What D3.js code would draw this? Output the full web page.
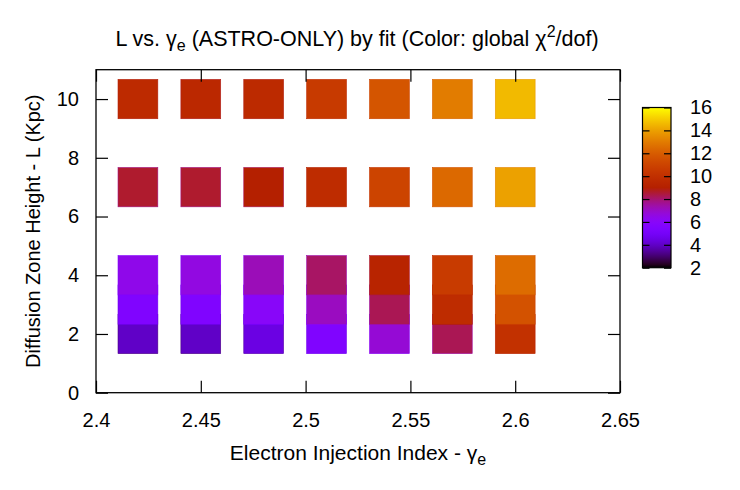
<!DOCTYPE html>
<html>
<head>
<meta charset="utf-8">
<script src="https://cdn.jsdelivr.net/npm/d3@7"></script>
<style>
  body { margin: 0; background: #fff; }
  svg { display: block; }
  text { font-family: "Liberation Sans", Arial, Helvetica, sans-serif; fill: #000; }
</style>
</head>
<body>
<svg id="chart" width="740" height="490"></svg>
<script>
// ---- data ----
const gammas = [2.42, 2.45, 2.48, 2.51, 2.54, 2.57, 2.60];
const Lvalues = [2, 3, 4, 7, 10];
const chi2_L2  = [4.0, 4.0, 4.45, 5.5, 6.8, 8.25, 10.1];
const chi2_L3  = [5.5, 5.5, 6.0, 7.1, 8.25, 9.8, 11.6];
const chi2_L4  = [6.4, 6.6, 7.2, 8.1, 9.3, 10.6, 12.5];
const chi2_L7  = [8.6, 8.6, 9.0, 9.8, 11.0, 12.4, 14.0];
const chi2_L10 = [9.7, 9.55, 9.65, 10.55, 11.7, 13.0, 14.6];
const xTicks = [2.4, 2.45, 2.5, 2.55, 2.6, 2.65];
const yTicks = [0, 2, 4, 6, 8, 10];
const cbTicks = [2, 4, 6, 8, 10, 12, 14, 16];
const boxHalfX = 0.0095, boxHalfY = 0.67;

const rows = [chi2_L2, chi2_L3, chi2_L4, chi2_L7, chi2_L10];
const cells = [];
Lvalues.forEach((L, i) => gammas.forEach((g, j) => cells.push({g, L, v: rows[i][j]})));

// gnuplot default palette rgbformulae 7,5,15
function palette(t) {
  t = Math.max(0, Math.min(1, t));
  const r = Math.sqrt(t), g = t * t * t, b = Math.max(0, Math.sin(2 * Math.PI * t));
  return d3.rgb(r * 255, g * 255, b * 255).formatHex();
}

const svg = d3.select("#chart");
const pL = 96, pR = 620, pT = 69.7, pB = 392.7;
const x = d3.scaleLinear().domain([2.4, 2.65]).range([pL, pR]);
const y = d3.scaleLinear().domain([0, 11]).range([pB, pT]);
const cScale = d3.scaleLinear().domain([2, 16]).range([0, 1]);
const color = v => palette(cScale(v));

// cells
svg.append("g").selectAll("rect").data(cells).join("rect")
  .attr("x", d => x(d.g - boxHalfX))
  .attr("y", d => y(d.L + boxHalfY))
  .attr("width", d => x(d.g + boxHalfX) - x(d.g - boxHalfX))
  .attr("height", d => y(d.L - boxHalfY) - y(d.L + boxHalfY))
  .attr("fill", d => color(d.v))
  .attr("stroke", d => color(d.v - 0.8))
  .attr("stroke-width", 0.6);

// axes with inward ticks, mirrored
const tickLen = 12;
const axG = svg.append("g");
axG.append("g").attr("transform", `translate(0,${pB})`)
  .call(d3.axisBottom(x).tickValues(xTicks).tickSize(-tickLen).tickPadding(20).tickFormat(d3.format("")));
axG.append("g").attr("transform", `translate(0,${pT})`)
  .call(d3.axisTop(x).tickValues(xTicks).tickSize(-tickLen).tickFormat(""));
axG.append("g").attr("transform", `translate(${pL},0)`)
  .call(d3.axisLeft(y).tickValues(yTicks).tickSize(-tickLen).tickPadding(17).tickFormat(d3.format("")));
axG.append("g").attr("transform", `translate(${pR},0)`)
  .call(d3.axisRight(y).tickValues(yTicks).tickSize(-tickLen).tickFormat(""));
axG.selectAll(".domain").remove();
axG.selectAll(".tick line").attr("stroke", "#000").attr("stroke-width", 1.2);
axG.selectAll(".tick text").style("font-size", "20px").attr("fill", "#000")
  .style("font-family", '"Liberation Sans", Arial, sans-serif');
svg.append("rect").attr("x", pL).attr("y", pT)
  .attr("width", pR - pL).attr("height", pB - pT)
  .attr("fill", "none").attr("stroke", "#000").attr("stroke-width", 1.3);

// title
const title = svg.append("text").attr("x", 357).attr("y", 46).attr("text-anchor", "middle").style("font-size", "21.5px");
title.append("tspan").text("L vs. γ");
title.append("tspan").attr("dy", 5).style("font-size", "16px").text("e");
title.append("tspan").attr("dy", -5).text(" (ASTRO-ONLY) by fit (Color: global χ");
title.append("tspan").attr("dy", -9).style("font-size", "16px").text("2");
title.append("tspan").attr("dy", 9).text("/dof)");

// x label
const xl = svg.append("text").attr("x", 358).attr("y", 460).attr("text-anchor", "middle").style("font-size", "21px");
xl.append("tspan").text("Electron Injection Index - γ");
xl.append("tspan").attr("dy", 5).style("font-size", "16px").text("e");

// y label
svg.append("text").attr("transform", `translate(40,${(pT + pB) / 2}) rotate(-90)`)
  .attr("text-anchor", "middle").style("font-size", "20px")
  .text("Diffusion Zone Height - L (Kpc)");

// colorbar
const cbL = 642.5, cbR = 671, cbT = 107.5, cbB = 267.7;
const cy = d3.scaleLinear().domain([2, 16]).range([cbB, cbT]);
const defs = svg.append("defs");
const grad = defs.append("linearGradient").attr("id", "cbgrad")
  .attr("x1", 0).attr("y1", 1).attr("x2", 0).attr("y2", 0);
d3.range(0, 1.0001, 0.02).forEach(t => grad.append("stop").attr("offset", t).attr("stop-color", palette(t)));
svg.append("rect").attr("x", cbL).attr("y", cbT).attr("width", cbR - cbL).attr("height", cbB - cbT)
  .attr("fill", "url(#cbgrad)").attr("stroke", "#000").attr("stroke-width", 1.2);
const cbAx = svg.append("g").attr("transform", `translate(${cbR},0)`)
  .call(d3.axisRight(cy).tickValues(cbTicks).tickSize(-7).tickPadding(26).tickFormat(d3.format("")));
const cbAxL = svg.append("g").attr("transform", `translate(${cbL},0)`)
  .call(d3.axisLeft(cy).tickValues(cbTicks).tickSize(-7).tickFormat(""));
[cbAx, cbAxL].forEach(g => {
  g.select(".domain").remove();
  g.selectAll(".tick line").attr("stroke", "#000").attr("stroke-width", 1.2);
});
cbAx.selectAll(".tick text").style("font-size", "20px").attr("fill", "#000")
  .attr("text-anchor", "start").attr("x", 19)
  .style("font-family", '"Liberation Sans", Arial, sans-serif');
</script>
</body>
</html>
